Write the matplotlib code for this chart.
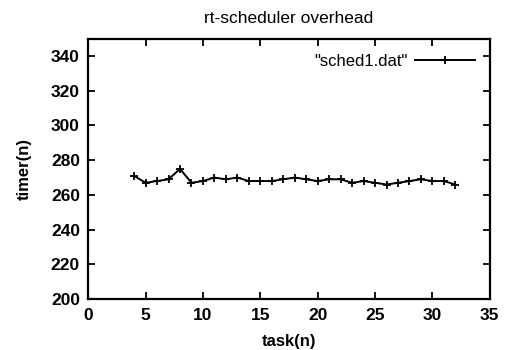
import matplotlib.pyplot as plt

task = [4, 5, 6, 7, 8, 9, 10, 11, 12, 13, 14, 15, 16, 17, 18,
        19, 20, 21, 22, 23, 24, 25, 26, 27, 28, 29, 30, 31, 32]
timer = [271, 267, 268, 269, 275, 267, 268, 270, 269, 270, 268, 268, 268, 269, 270,
         269, 268, 269, 269, 267, 268, 267, 266, 267, 268, 269, 268, 268, 266]

plt.rcParams['font.family'] = ['Liberation Sans', 'DejaVu Sans']

fig = plt.figure(figsize=(5.07, 3.5), dpi=100, facecolor='white')
ax = fig.add_axes([0.174, 0.145, 0.792, 0.745])

ax.plot(task, timer, color='black', linewidth=1.4, marker='+', markersize=6,
        markeredgewidth=1.3, label='"sched1.dat"')

ax.set_xlim(0, 35)
ax.set_ylim(200, 350)
ax.set_xticks(range(0, 36, 5))
ax.set_yticks(range(200, 341, 20))
ax.tick_params(direction='in', top=True, right=True, length=5, width=1.3,
               labelsize=12.5, pad=6)
for lbl in ax.get_xticklabels() + ax.get_yticklabels():
    lbl.set_fontweight('bold')
for s in ax.spines.values():
    s.set_linewidth(1.6)

ax.set_title('rt-scheduler overhead', fontsize=12.5, pad=11)
ax.set_xlabel('task(n)', fontsize=12, fontweight='bold', labelpad=8)
ax.set_ylabel('timer(n)', fontsize=12, fontweight='bold', labelpad=14)

leg = ax.legend(loc='upper right', frameon=False, markerfirst=False,
                handlelength=3.6, handletextpad=0.4, fontsize=12,
                borderaxespad=0.5)

fig.savefig('out.png', dpi=100)
